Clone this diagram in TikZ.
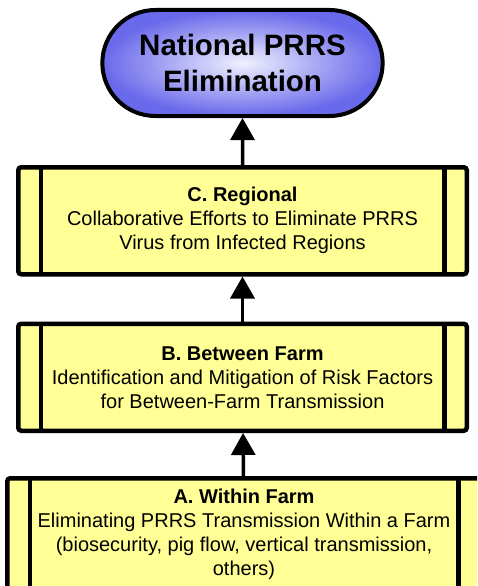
\documentclass[tikz,border=0pt]{standalone}
\usepackage{fontspec}
\setmainfont{Liberation Sans}
\usetikzlibrary{positioning,shapes.misc,arrows.meta}
\definecolor{boxyellow}{RGB}{255,255,150}
\definecolor{goalblue}{RGB}{105,105,235}
\definecolor{goallight}{RGB}{240,240,255}

\begin{document}
\begin{tikzpicture} [
	x=1pt,y=1pt,
	text centered,
	node distance=45pt,
	ngoal/.style={
		rounded rectangle,minimum width=287pt,minimum height=106pt,
		draw=black,line width=4pt,inner color=goallight,outer color=goalblue,
		font=\fontsize{29.5}{36}\selectfont\bfseries,align=center
	},
	nlevel/.style={
		rectangle,rounded corners=3pt,minimum width=448.5pt,minimum height=107pt,
		draw=black,line width=4.5pt,fill=boxyellow,
		font=\fontsize{20}{24}\selectfont,align=center,
		path picture={
			\draw [line width=4.5pt] ([xshift=22.5pt]path picture bounding box.north west)
				-- ([xshift=22.5pt]path picture bounding box.south west);
			\draw [line width=4.5pt] ([xshift=-22.5pt]path picture bounding box.north east)
				-- ([xshift=-22.5pt]path picture bounding box.south east);
		}
	},
	uparrow/.style={
		-{Triangle[width=24pt,length=22pt]},line width=3.5pt
	}
]
\useasboundingbox (0,0) rectangle (477,-586);
\clip (0,0) rectangle (477,-586);
\node [ngoal]	(goal) at (242.5,-63)	{National PRRS\\Elimination};
\node [nlevel]	(regional)[below=47pt of goal]
	{\textbf{C. Regional}\\Collaborative Efforts to Eliminate PRRS\\Virus from Infected Regions}
	edge [uparrow]	(goal);
\node [nlevel]	(between)[below=of regional]
	{\textbf{B. Between Farm}\\Identification and Mitigation of Risk Factors\\for Between-Farm Transmission}
	edge [uparrow]	(regional);
\node [nlevel,minimum width=473.5pt,minimum height=112.5pt]	(within)[below=43pt of between,xshift=1.5pt]
	{\textbf{A. Within Farm}\\Eliminating PRRS Transmission Within a Farm\\(biosecurity, pig flow, vertical transmission,\\others)}
	edge [uparrow]	(between);
\end{tikzpicture}
\end{document}
